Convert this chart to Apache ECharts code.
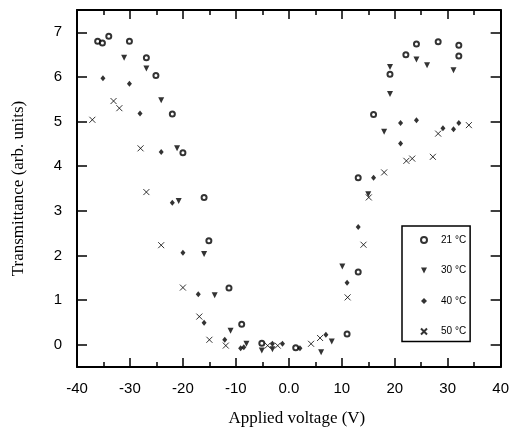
<!DOCTYPE html>
<html>
<head>
<meta charset="utf-8">
<script src="https://cdn.jsdelivr.net/npm/echarts@6/dist/echarts.min.js"></script>
<style>
html, body { margin: 0; padding: 0; background: #fff; }
#chart { width: 512px; height: 436px; }
</style>
</head>
<body>
<div id="chart"></div>
<script>
// Transmittance vs applied voltage at four temperatures
const seriesNames = ['21 °C', '30 °C', '40 °C', '50 °C'];

const volt21 = [-36.1, -35.2, -34.0, -30.1, -26.9, -25.1, -22.0, -20.0, -16.0, -15.1, -11.3, -8.9, -5.1, 1.3, 11.0, 13.1, 13.1, 16.0, 19.1, 22.1, 24.1, 28.2, 32.1, 32.1];
const trans21 = [6.80, 6.76, 6.91, 6.80, 6.43, 6.03, 5.17, 4.30, 3.30, 2.33, 1.27, 0.46, 0.03, -0.07, 0.24, 1.63, 3.74, 5.16, 6.06, 6.50, 6.74, 6.79, 6.71, 6.47];

const volt30 = [-31.1, -26.9, -24.1, -21.1, -20.8, -16.0, -14.0, -11.0, -8.0, -5.1, -3.1, 6.1, 8.1, 10.1, 15.0, 18.0, 19.1, 19.1, 24.1, 26.1, 31.1];
const trans30 = [6.43, 6.19, 5.48, 4.40, 3.22, 2.03, 1.11, 0.31, 0.02, -0.13, -0.10, -0.17, 0.07, 1.75, 3.37, 4.77, 5.62, 6.22, 6.39, 6.26, 6.15];

const volt40 = [-35.1, -30.1, -28.1, -24.1, -22.0, -20.0, -17.1, -16.0, -12.1, -9.1, -8.5, -3.1, -1.2, 2.1, 7.0, 11.0, 13.1, 16.0, 21.1, 21.1, 24.1, 29.1, 31.1, 32.1];
const trans40 = [5.97, 5.85, 5.18, 4.32, 3.18, 2.06, 1.13, 0.49, 0.11, -0.08, -0.06, 0.02, 0.02, -0.08, 0.22, 1.39, 2.64, 3.74, 4.51, 4.97, 5.03, 4.85, 4.83, 4.97];

const volt50 = [-37.1, -33.1, -32.0, -28.0, -26.9, -24.1, -20.0, -16.9, -15.0, -11.9, -4.0, -2.1, 4.2, 5.9, 11.1, 14.1, 15.1, 18.0, 22.2, 23.3, 27.2, 28.2, 34.0];
const trans50 = [5.04, 5.46, 5.30, 4.40, 3.42, 2.23, 1.28, 0.63, 0.11, -0.02, -0.02, -0.02, 0.02, 0.15, 1.06, 2.24, 3.30, 3.86, 4.12, 4.17, 4.21, 4.73, 4.92];

const yTicks = [0, 1, 2, 3, 4, 5, 6, 7];

// marker shapes
const triangleDown = 'path://M0 0L10 0L5 10Z';
const cross = 'path://M0 0L10 10M10 0L0 10';

const pairs = (xs, ys) => xs.map((x, i) => [x, ys[i]]);

const chart = echarts.init(document.getElementById('chart'), null, { renderer: 'canvas' });

const axisLine = { show: true, onZero: false, lineStyle: { color: '#000', width: 2 } };
const tickStyle = { color: '#000', width: 1.5 };

const option = {
  backgroundColor: '#fff',
  animation: false,
  grid: { left: 77, right: 11, top: 10, bottom: 69, containLabel: false },
  xAxis: [
    {
      type: 'value', min: -40, max: 40, interval: 10,
      position: 'bottom',
      axisLine: axisLine,
      axisTick: { show: true, inside: true, length: 9, lineStyle: tickStyle },
      minorTick: { show: true, splitNumber: 2, length: 5, lineStyle: tickStyle },
      splitLine: { show: false },
      axisLabel: {
        color: '#000', fontFamily: 'Liberation Sans', fontSize: 15, margin: 14,
        formatter: v => (v === 0 ? '0.0' : String(v))
      },
      name: 'Applied voltage (V)', nameLocation: 'middle', nameGap: 43,
      nameTextStyle: { color: '#000', fontFamily: 'Liberation Serif', fontSize: 17, padding: [0, 0, 0, 16] }
    },
    {
      type: 'value', min: -40, max: 40, interval: 10,
      position: 'top',
      axisLine: axisLine,
      axisTick: { show: true, inside: true, length: 9, lineStyle: tickStyle },
      minorTick: { show: true, splitNumber: 2, length: 5, lineStyle: tickStyle },
      splitLine: { show: false },
      axisLabel: { show: false }
    }
  ],
  yAxis: [
    {
      type: 'value', min: -0.5, max: 7.5,
      position: 'left',
      axisLine: axisLine,
      axisTick: { show: true, inside: true, length: 10, lineStyle: tickStyle, customValues: yTicks },
      splitLine: { show: false },
      axisLabel: { color: '#000', fontFamily: 'Liberation Sans', fontSize: 15, margin: 15, customValues: yTicks },
      name: 'Transmittance (arb. units)', nameLocation: 'middle', nameGap: 50, nameRotate: 90,
      nameTextStyle: { color: '#000', fontFamily: 'Liberation Serif', fontSize: 17 }
    },
    {
      type: 'value', min: -0.5, max: 7.5,
      position: 'right',
      axisLine: axisLine,
      axisTick: { show: true, inside: true, length: 10, lineStyle: tickStyle, customValues: yTicks },
      splitLine: { show: false },
      axisLabel: { show: false }
    }
  ],
  legend: {
    orient: 'vertical',
    left: 402, top: 226,
    padding: [9, 4, 5, 18],
    itemGap: 20.5,
    itemWidth: 6, itemHeight: 6,
    borderColor: '#000', borderWidth: 1.5,
    backgroundColor: '#fff',
    textStyle: { color: '#000', fontFamily: 'Liberation Sans', fontSize: 10, padding: [0, 0, 0, 9] },
    data: [
      { name: seriesNames[0], icon: 'emptyCircle' },
      { name: seriesNames[1], icon: triangleDown },
      { name: seriesNames[2], icon: 'diamond' },
      { name: seriesNames[3], icon: cross }
    ]
  },
  series: [
    {
      name: seriesNames[0], type: 'scatter', data: pairs(volt21, trans21),
      symbol: 'emptyCircle', symbolSize: 5,
      itemStyle: { color: '#000', borderColor: '#000', borderWidth: 1.2 }
    },
    {
      name: seriesNames[1], type: 'scatter', data: pairs(volt30, trans30),
      symbol: triangleDown, symbolSize: [6, 6],
      itemStyle: { color: '#000' }
    },
    {
      name: seriesNames[2], type: 'scatter', data: pairs(volt40, trans40),
      symbol: 'diamond', symbolSize: [5, 6],
      itemStyle: { color: '#000' }
    },
    {
      name: seriesNames[3], type: 'scatter', data: pairs(volt50, trans50),
      symbol: cross, symbolSize: 6,
      itemStyle: { color: 'rgba(0,0,0,0)', borderColor: '#000', borderWidth: 1 }
    }
  ]
};

chart.setOption(option);
</script>
</body>
</html>
